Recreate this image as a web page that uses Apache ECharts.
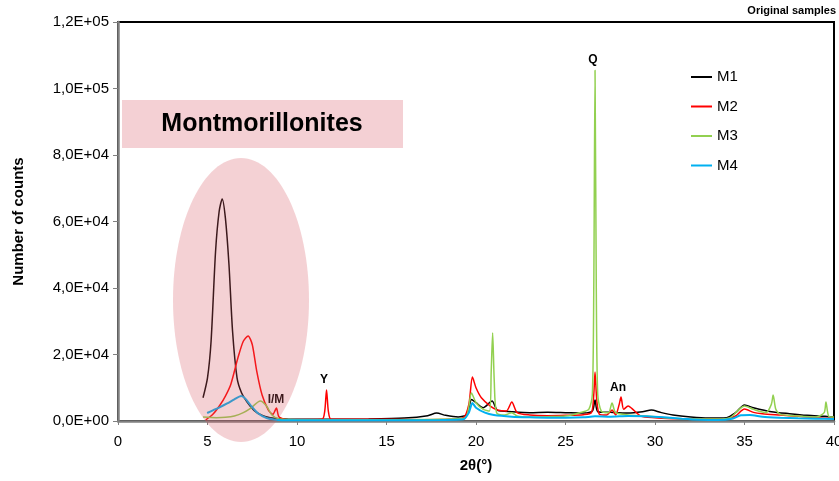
<!DOCTYPE html>
<html><head><meta charset="utf-8">
<script src="https://cdn.jsdelivr.net/npm/echarts@6/dist/echarts.min.js"></script>
<style>html,body{margin:0;padding:0;background:#fff}#c{width:839px;height:481px}</style>
</head><body><div id="c"></div>
<script>
// ---- data ----
const seriesNames = ['M1', 'M2', 'M3', 'M4'];
const xTicks = [0, 5, 10, 15, 20, 25, 30, 35, 40];
const yTicks = [0, 20000, 40000, 60000, 80000, 100000, 120000];

const m1X = [4.75,5.0,5.2,5.45,5.65,5.82,6.0,6.2,6.4,6.65,6.9,7.2,7.6,8.0,8.5,9.0,10,12,14,16,17.3,17.8,18.3,19.0,19.5,19.75,20.0,20.4,20.9,21.2,22,23,24,25,26.0,26.5,26.65,26.8,27.5,28.5,29.3,29.8,30.3,31,32,33,34,34.5,35.0,35.5,36.5,37.5,38.5,39.5,40];
const m1Y = [7000,13000,24000,51000,63000,66800,61000,47000,27000,13000,8500,5800,3200,1800,1000,700,500,500,600,900,1600,2400,1700,1200,2000,6500,5500,4000,6000,3200,2800,2500,2600,2500,2400,3000,6300,2800,2600,2400,2800,3300,2600,1800,1200,900,1000,2500,4800,4000,2800,2200,1700,1400,1200];

const m2X = [4.9,5.3,5.7,6.0,6.3,6.7,7.0,7.27,7.5,7.75,8.05,8.4,8.65,8.85,9.0,9.5,11.4,11.55,11.65,11.75,11.9,13,15,17,18.5,19.3,19.6,19.8,20.0,20.3,20.8,21.2,21.7,22.0,22.3,23,24,25,26.0,26.45,26.58,26.65,26.75,26.9,27.3,27.6,27.8,28.0,28.1,28.25,28.5,28.7,29.2,30,31,32,33,34,34.5,35.0,35.5,36,37,38,39,40];
const m2Y = [300,2000,4800,7500,11000,19000,24000,25600,23000,15000,7800,3300,2000,3900,1200,400,500,3000,9300,3000,500,500,500,400,500,1000,5000,13200,10000,7000,4500,3300,3000,5700,2500,1800,1600,1700,1900,2500,8000,14700,6000,2000,1800,3300,1800,5000,7200,3500,4500,3800,1500,1000,700,500,500,600,1500,3600,2600,2200,1800,1400,1000,800];

const m3X = [4.75,5.5,6.0,6.5,7.0,7.4,7.95,8.3,8.6,9.0,10,15,18,19.4,19.75,20.0,20.4,20.75,20.85,20.93,21.02,21.15,21.6,22.0,22.3,23,24,25,25.8,26.3,26.5,26.58,26.65,26.72,26.8,27.0,27.4,27.6,27.8,28.5,29.5,30.5,31.5,32.5,33.5,34.2,34.7,35.0,35.5,36.2,36.5,36.6,36.75,37,38,39,39.45,39.55,39.7,40];
const m3Y = [1200,1000,1100,1500,2500,3800,6000,4500,1800,600,400,400,500,900,8400,5500,3500,3000,15000,26500,12000,2500,1800,2500,1500,1200,1300,1500,2500,3500,8000,40000,105500,40000,8000,3000,2500,5400,2500,1800,1500,1000,700,600,600,1000,3500,4500,3500,2500,5000,7800,3500,2000,1500,1200,2500,5700,1500,1200];

const m4X = [4.98,5.3,5.7,6.1,6.5,6.88,7.1,7.4,7.8,8.3,8.8,9.5,11,15,18,19.3,19.6,19.8,20.0,20.5,21,22,23,24,25,26,26.65,27.5,28.5,29.5,30.5,31.5,32.5,33.5,34.3,34.8,35.3,36,37,38,39,40];
const m4Y = [2400,3200,4200,5300,6500,7500,6800,4800,2400,900,400,200,200,200,300,500,2500,5400,4000,2500,1800,1300,1100,1000,1000,1100,1400,1300,1500,1400,1100,700,400,300,700,1700,1800,1300,1000,800,700,600];

const seriesX = [m1X, m2X, m3X, m4X];
const seriesY = [m1Y, m2Y, m3Y, m4Y];
const colors = ['#000000', '#ff0000', '#92d050', '#00b0f0'];
const widths = [1.5, 1.5, 1.5, 2];

function sci(v) {
  if (v === 0) return '0,0E+00';
  const e = Math.floor(Math.log10(Math.abs(v)) + 1e-9);
  const m = (v / Math.pow(10, e)).toFixed(1).replace('.', ',');
  return m + 'E+' + (e < 10 ? '0' : '') + e;
}

const font = 'Liberation Sans, Arial, sans-serif';
const chart = echarts.init(document.getElementById('c'));
chart.setOption({
  animation: false,
  backgroundColor: '#fff',
  grid: { left: 118, right: 5, top: 22, bottom: 60, outerBoundsMode: 'none', containLabel: false, show: true, borderColor: '#000', borderWidth: 2, backgroundColor: 'transparent' },
  legend: {
    data: seriesNames, orient: 'vertical', left: 686, top: 64,
    icon: 'rect', itemWidth: 21, itemHeight: 2, itemGap: 13.5,
    textStyle: { fontFamily: font, fontSize: 15, color: '#000', lineHeight: 16 }
  },
  xAxis: {
    type: 'value', min: xTicks[0], max: xTicks[xTicks.length - 1], interval: 5,
    name: '2θ(°)', nameLocation: 'middle', nameGap: 37,
    nameTextStyle: { fontFamily: font, fontSize: 15, fontWeight: 'bold', color: '#000' },
    axisLine: { lineStyle: { color: '#808080', width: 2.5 } },
    axisTick: { show: true, length: 4, lineStyle: { color: '#808080' } },
    axisLabel: { fontFamily: font, fontSize: 15, color: '#000', margin: 13 },
    splitLine: { show: false }
  },
  yAxis: {
    type: 'value', min: yTicks[0], max: yTicks[yTicks.length - 1], interval: 20000,
    name: 'Number of counts', nameLocation: 'middle', nameGap: 92, nameRotate: 90,
    nameTextStyle: { fontFamily: font, fontSize: 15, fontWeight: 'bold', color: '#000' },
    axisLine: { show: true, lineStyle: { color: '#808080', width: 2.5 } },
    axisTick: { show: true, length: 5, lineStyle: { color: '#808080' } },
    axisLabel: { fontFamily: font, fontSize: 15, color: '#000', margin: 9, formatter: sci },
    splitLine: { show: false }
  },
  series: seriesNames.map((n, i) => ({
    name: n, type: 'line', showSymbol: false, smooth: 0.25,
    color: colors[i],
    lineStyle: { color: colors[i], width: widths[i] },
    data: seriesX[i].map((x, k) => [x, seriesY[i][k]])
  })),
  graphic: [
    { type: 'text', right: 3, top: 5, z: 10, style: { text: 'Original samples', font: 'bold 11px ' + font, fill: '#000' } },
    { type: 'rect', shape: { x: 122, y: 100, width: 281, height: 48 }, z: 5, style: { fill: '#f4d0d4' } },
    { type: 'text', x: 262, y: 124, z: 6, style: { text: 'Montmorillonites', font: 'bold 25px ' + font, fill: '#000', align: 'center', verticalAlign: 'middle' } },
    { type: 'text', x: 593, y: 60, z: 6, style: { text: 'Q', font: 'bold 12px ' + font, fill: '#000', align: 'center', verticalAlign: 'middle' } },
    { type: 'text', x: 324, y: 380, z: 6, style: { text: 'Y', font: 'bold 12px ' + font, fill: '#000', align: 'center', verticalAlign: 'middle' } },
    { type: 'text', x: 276, y: 400, z: 6, style: { text: 'I/M', font: 'bold 12px ' + font, fill: '#000', align: 'center', verticalAlign: 'middle' } },
    { type: 'text', x: 618, y: 388, z: 6, style: { text: 'An', font: 'bold 12px ' + font, fill: '#000', align: 'center', verticalAlign: 'middle' } },
    { type: 'ellipse', shape: { cx: 241, cy: 300, rx: 68, ry: 142 }, z: 20, style: { fill: 'rgba(215,90,100,0.28)' } }
  ]
});
</script>
</body></html>
